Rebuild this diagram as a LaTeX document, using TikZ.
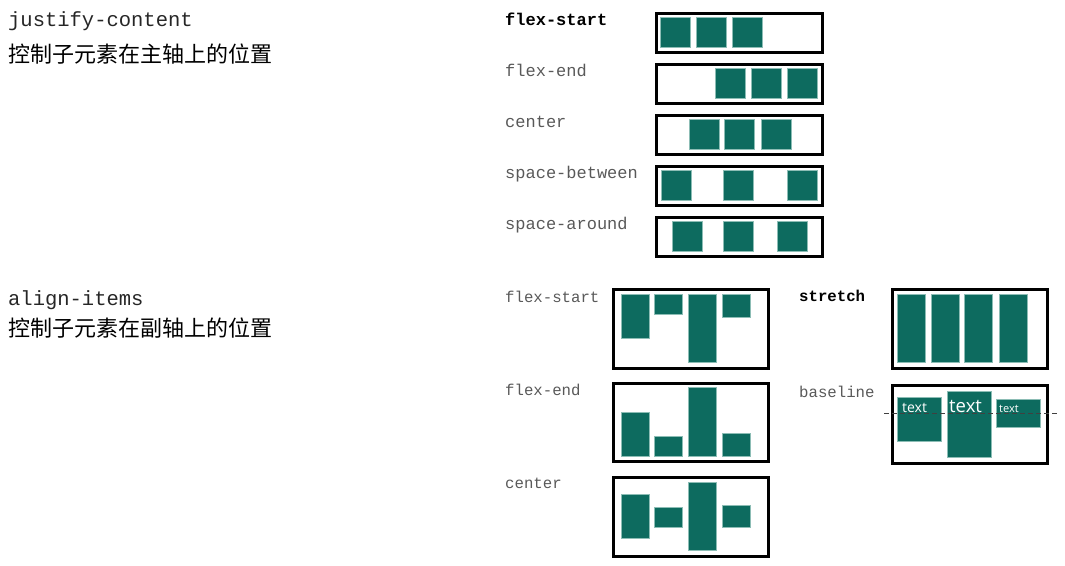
\documentclass[tikz,border=0pt]{standalone}
\usepackage{fontspec}
\setmainfont{Liberation Serif}
\setmonofont{Liberation Mono}
\newfontfamily\cjkfont{Noto Sans CJK SC}
\newfontfamily\itemfont{Open Sans}
\usetikzlibrary{positioning}
\definecolor{flexteal}{HTML}{0D6B5F}
\definecolor{itemedge}{HTML}{8CBDB5}

\begin{document}
\begin{tikzpicture}[
        x=1pt, y=-1pt,
        flexbox/.style={draw=black, line width=2.6pt},
        item/.style={fill=flexteal, draw=itemedge, line width=0.6pt},
        prop/.style={anchor=base west, inner sep=0pt, font=\fontsize{20.5}{24}\selectfont\ttfamily, text=black!85},
        note/.style={anchor=base west, inner sep=0pt, font=\fontsize{22}{26}\selectfont\cjkfont, text=black},
        value/.style={anchor=base west, inner sep=0pt, font=\fontsize{17}{20}\selectfont\ttfamily, text=black!65},
        keyvalue/.style={value, font=\fontsize{17}{20}\selectfont\ttfamily\bfseries, text=black},
        small/.style={font=\fontsize{15.7}{18}\selectfont\ttfamily},
        smallkey/.style={font=\fontsize{15.7}{18}\selectfont\ttfamily\bfseries},
        sample/.style={anchor=base west, inner sep=0pt, text=white}
    ]
        \useasboundingbox (0,0) rectangle (1065,565);

        % Headings
        \node[prop] (jc) at (8,26) {justify-content};
        \node[note] (jcnote) at (8,62) {控制子元素在主轴上的位置};
        \node[prop] (ai) at (8,305) {align-items};
        \node[note] (ainote) at (8,336) {控制子元素在副轴上的位置};

        % justify-content
        \node[keyvalue] (jcstart) at (505,25) {flex-start};
        \node[value] (jcend) at (505,76) {flex-end};
        \node[value] (jccenter) at (505,127) {center};
        \node[value] (jcbetween) at (505,178) {space-between};
        \node[value] (jcaround) at (505,229) {space-around};

        \foreach \t in {12,63,114,165,216}
            \draw[flexbox] (656.3,\t+1.3) rectangle (822.7,\t+40.7);

        \foreach \x in {660,696,732} \draw[item] (\x,17) rectangle ++(30,30);
        \foreach \x in {715,751,787} \draw[item] (\x,68) rectangle ++(30,30);
        \foreach \x in {689,724,761} \draw[item] (\x,119) rectangle ++(30,30);
        \foreach \x in {661,723,787} \draw[item] (\x,170) rectangle ++(30,30);
        \foreach \x in {672,723,777} \draw[item] (\x,221) rectangle ++(30,30);

        % align-items
        \node[value, small] (aistart) at (505,302) {flex-start};
        \node[value, small] (aiend) at (505,395) {flex-end};
        \node[value, small] (aicenter) at (505,488) {center};
        \node[keyvalue, smallkey] (aistretch) at (799,301) {stretch};
        \node[value, small] (aibase) at (799,397) {baseline};

        \draw[flexbox, line width=3pt] (613.5,289.5) rectangle (768.5,368.5);
        \draw[flexbox, line width=3pt] (613.5,383.5) rectangle (768.5,461.5);
        \draw[flexbox, line width=3pt] (613.5,477.5) rectangle (768.5,556.5);
        \draw[flexbox, line width=3pt] (892.5,289.5) rectangle (1047.5,368.5);
        \draw[flexbox, line width=3pt] (892.5,385.5) rectangle (1047.5,463.5);

        \draw[item] (621,294) rectangle (649,338);
        \draw[item] (654,294) rectangle (682,314);
        \draw[item] (688,294) rectangle (716,362);
        \draw[item] (722,294) rectangle (750,317);

        \draw[item] (621,412) rectangle (649,456);
        \draw[item] (654,436) rectangle (682,456);
        \draw[item] (688,387) rectangle (716,456);
        \draw[item] (722,433) rectangle (750,456);

        \draw[item] (621,494) rectangle (649,538);
        \draw[item] (654,507) rectangle (682,527);
        \draw[item] (688,482) rectangle (716,550);
        \draw[item] (722,505) rectangle (750,527);

        \foreach \x in {897,931,964,999} \draw[item] (\x,294) rectangle ++(28,68);

        \draw[item] (897,397) rectangle (941,441);
        \draw[item] (947,391) rectangle (991,457);
        \draw[item] (996,399) rectangle (1040,427);
        \node[sample, font=\fontsize{14}{16}\selectfont\itemfont] (t1) at (902,412) {text};
        \node[sample, font=\fontsize{18.5}{21}\selectfont\itemfont] (t2) at (949,412) {text};
        \node[sample, font=\fontsize{11}{13}\selectfont\itemfont] (t3) at (999,412) {text};
        \draw[black!75, line width=0.8pt, dash pattern=on 5pt off 3pt] (884,413) -- (1058,413);
    \end{tikzpicture}
\end{document}
